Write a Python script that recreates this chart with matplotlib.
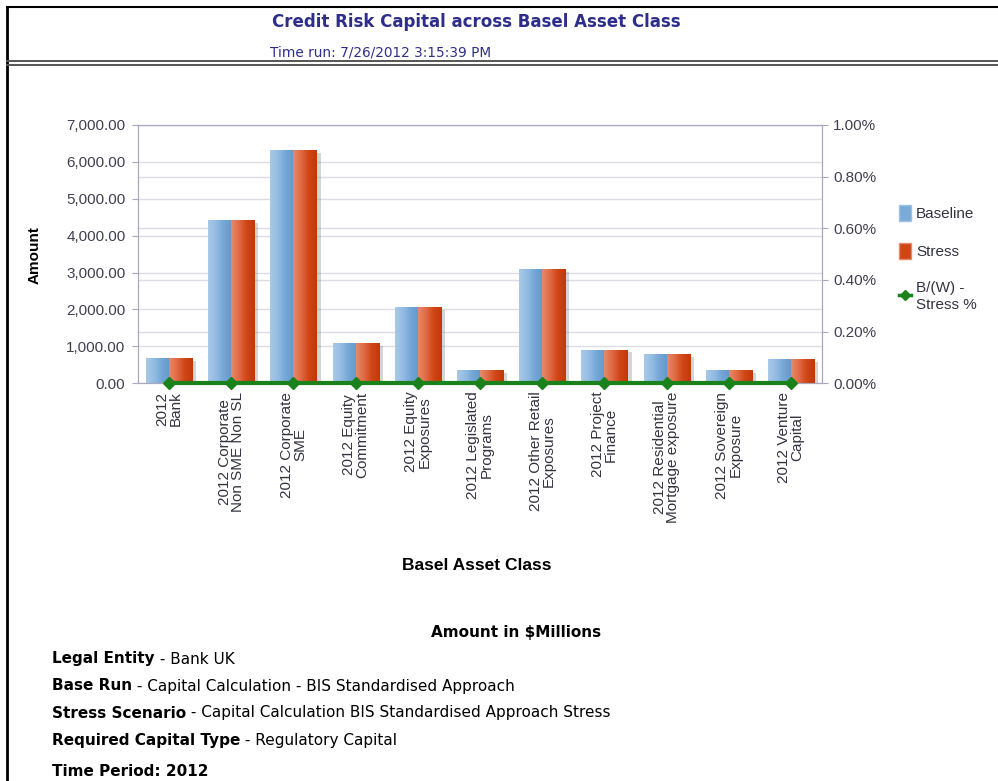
import numpy as np
import matplotlib
matplotlib.use("Agg")
import matplotlib.pyplot as plt
import matplotlib.patheffects as pe
from matplotlib.colors import LinearSegmentedColormap
from matplotlib.lines import Line2D
from matplotlib.patches import Patch
from matplotlib.ticker import FuncFormatter, MultipleLocator

# donnees du graphique
categories = ["2012\nBank", "2012 Corporate\nNon SME Non SL", "2012 Corporate\nSME",
              "2012 Equity\nCommitment", "2012 Equity\nExposures", "2012 Legislated\nPrograms",
              "2012 Other Retail\nExposures", "2012 Project\nFinance", "2012 Residential\nMortgage exposure",
              "2012 Sovereign\nExposure", "2012 Venture\nCapital"]
baseline = [690, 4430, 6310, 1080, 2060, 350, 3090, 910, 790, 350, 650]
stress = [690, 4430, 6310, 1080, 2060, 350, 3090, 910, 790, 350, 650]
bw_stress_pct = [0, 0, 0, 0, 0, 0, 0, 0, 0, 0, 0]

footer = [("Legal Entity", " - Bank UK"),
          ("Base Run", " - Capital Calculation - BIS Standardised Approach"),
          ("Stress Scenario", " - Capital Calculation BIS Standardised Approach Stress"),
          ("Required Capital Type", " - Regulatory Capital")]

W, H = 998, 781
plt.rcParams['font.family'] = ['Liberation Sans', 'DejaVu Sans']
fig = plt.figure(figsize=(W / 100, H / 100), dpi=100)

def fx(x):
    return x / W

def fy(y):
    return 1 - y / H

# cadre de la page
fig.add_artist(Line2D([fx(7), fx(7)], [fy(7), 0], color='black', lw=2))
fig.add_artist(Line2D([fx(7), 1], [fy(7), fy(7)], color='black', lw=1.5))
fig.add_artist(Line2D([fx(7), 1], [fy(61), fy(61)], color='#555555', lw=1.4))
fig.add_artist(Line2D([fx(7), 1], [fy(65), fy(65)], color='#555555', lw=1.4))

fig.text(fx(476), fy(22), "Credit Risk Capital across Basel Asset Class", ha='center', va='center',
         color='#2e2e8a', fontsize=12, fontweight='bold', family='DejaVu Sans')
fig.text(fx(270), fy(52), "Time run: 7/26/2012 3:15:39 PM", ha='left', va='center',
         color='#2e2e8a', fontsize=9.8, family='DejaVu Sans')

ax = fig.add_axes([fx(138), fy(383.3), fx(822) - fx(138), fy(125) - fy(383.3)])
x = np.arange(len(categories))
bw = 0.37
cmap_b = LinearSegmentedColormap.from_list('b', ['#a9c9e8', '#93bce2', '#74a6d6', '#6399cb'])
cmap_s = LinearSegmentedColormap.from_list('s', ['#e58a6c', '#e06a44', '#cf4514', '#c2380a'])

shadow = [pe.withSimplePatchShadow(offset=(3, -2), shadow_rgbFace='#888888', alpha=0.35)]
bars_b = ax.bar(x - bw / 2, baseline, bw, color='#7aaad8', zorder=3, path_effects=shadow)
bars_s = ax.bar(x + bw / 2, stress, bw, color='#cf4514', zorder=3, path_effects=shadow)

grad = np.linspace(0, 1, 64).reshape(1, -1)
for bars, cm in ((bars_b, cmap_b), (bars_s, cmap_s)):
    for p in bars:
        im = ax.imshow(grad, cmap=cm, aspect='auto', zorder=4,
                       extent=[p.get_x(), p.get_x() + p.get_width(), 0, p.get_height()])
        im.set_clip_path(p)

ax.set_xlim(-0.5, len(categories) - 0.5)
ax.set_ylim(0, 7000)
ax.yaxis.set_major_locator(MultipleLocator(1000))
ax.yaxis.set_major_formatter(FuncFormatter(lambda v, p: f"{v:,.2f}"))
ax.grid(axis='y', color='#dcdce6', lw=1, zorder=0)
ax.set_axisbelow(True)
ax.set_xticks(x)
ax.set_xticklabels(categories, rotation=90, va='top', ha='center', linespacing=0.92)
ax.tick_params(axis='x', length=0, pad=6, labelsize=11, labelcolor='#333340')
ax.tick_params(axis='y', length=4, color='#a8a8c0', labelsize=11, labelcolor='#404050', pad=5)
for s in ax.spines.values():
    s.set_color('#a8a8c0')

ax2 = ax.twinx()
ax2.set_ylim(0, 0.01)
ax2.yaxis.set_major_locator(MultipleLocator(0.002))
ax2.yaxis.set_major_formatter(FuncFormatter(lambda v, p: f"{v * 100:.2f}%"))
ax2.tick_params(axis='y', length=4, color='#a8a8c0', labelsize=11, labelcolor='#404050', pad=4)
for s in ax2.spines.values():
    s.set_color('#a8a8c0')
ax2.plot(x, bw_stress_pct, color='#1a821a', lw=3, marker='D', markersize=6.5, zorder=5, clip_on=False)
ax2.set_zorder(ax.get_zorder() + 1)
ax2.patch.set_visible(False)
# grille du second axe, sous les barres
for t in np.arange(0.002, 0.0101, 0.002):
    ax.axhline(t / 0.01 * 7000, color='#dcdce6', lw=1, zorder=0)

handles = [Patch(facecolor='#7aaad8', edgecolor='#9ec2e4'),
           Patch(facecolor='#cf4514', edgecolor='#e58a6c'),
           Line2D([], [], color='#1a821a', lw=2.5, marker='D', markersize=5)]
fig.legend(handles, ["Baseline", "Stress", "B/(W) -\nStress %"], loc='upper left',
           bbox_to_anchor=(fx(893), fy(199)), frameon=False, fontsize=11, labelspacing=1.45,
           handlelength=0.8, handleheight=1.2, handletextpad=0.3, labelcolor='#333340',
           borderaxespad=0)

fig.text(fx(35), fy(255), "Amount", rotation=90, ha='center', va='center', fontsize=11, fontweight='bold')
fig.text(fx(477), fy(566), "Basel Asset Class", ha='center', va='center', fontsize=12.5, fontweight='bold')

fig.text(fx(516), fy(633), "Amount in $Millions", ha='center', va='center', fontsize=11,
         fontweight='bold', family='DejaVu Sans')
ys = [659, 686, 713, 740]
for (b, n), yy in zip(footer, ys):
    t = fig.text(fx(52), fy(yy), b, ha='left', va='center', fontsize=11, fontweight='bold', family='DejaVu Sans')
    ax.annotate(n, xy=(1, 0.5), xycoords=t, ha='left', va='center', fontsize=11, family='DejaVu Sans',
                annotation_clip=False)
fig.text(fx(52), fy(772), "Time Period: 2012", ha='left', va='center', fontsize=11, fontweight='bold',
         family='DejaVu Sans')

fig.savefig("out.png", dpi=100)
